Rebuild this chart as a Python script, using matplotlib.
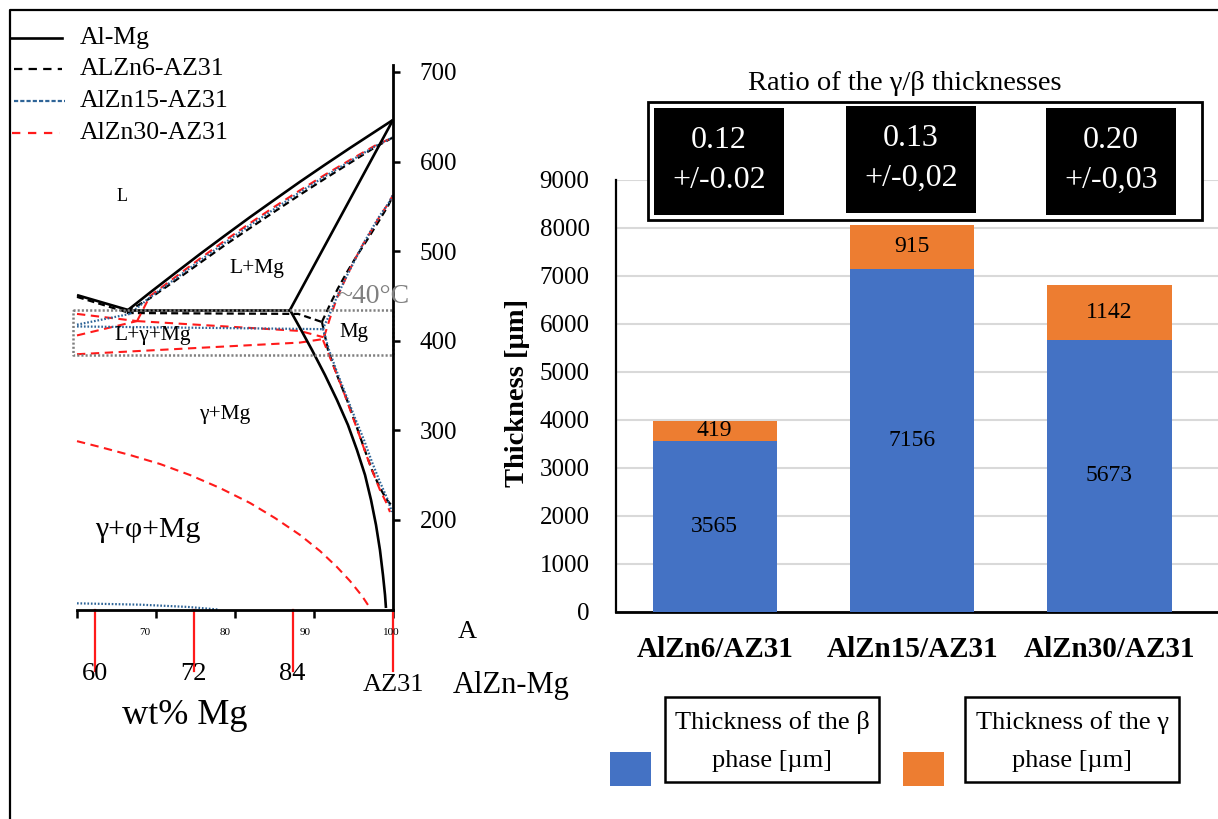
import matplotlib
matplotlib.use("Agg")
import matplotlib.pyplot as plt
from matplotlib.patches import Rectangle

plt.rcParams['font.family'] = ['Liberation Serif', 'DejaVu Serif']
plt.rcParams['lines.scale_dashes'] = False

W, H = 1218, 819

# ---------------- phase diagram data (wt% Mg, temperature degC) ----------------
almg_liq_left = [(60.0, 451), (66.46, 434.4)]
almg_liquidus = [(66.46, 434.4), (69.24, 453.8), (72.41, 475.4), (75.57, 496.8),
                 (78.73, 517.5), (81.90, 538.0), (85.06, 557.8), (88.23, 577.5),
                 (91.39, 596.5), (94.56, 615.2), (97.72, 633.4), (100.0, 646.5)]
almg_eutectic = [(66.46, 434.4), (86.96, 434.4)]
almg_solidus = [(86.96, 434.4), (100.0, 646.5)]
almg_solvus = [(86.96, 434.4), (88.23, 414.3), (89.75, 389.7), (91.39, 361.8),
               (92.91, 333.9), (94.30, 306.0), (95.44, 278.1), (96.46, 250.2),
               (97.22, 222.3), (97.85, 194.4), (98.35, 166.5), (98.73, 138.6),
               (98.99, 116.3), (99.11, 101.8)]

zn6_left = [(60.0, 449), (66.3, 432)]
zn6_liquidus = [(66.3, 432), (69.24, 447.5), (72.41, 467.0), (75.57, 487.0),
                (78.73, 506.8), (81.90, 525.8), (85.06, 544.5), (88.23, 563.0),
                (91.39, 581.0), (94.56, 598.5), (97.72, 616.0), (100.0, 627.0)]
zn6_eutectic = [(66.3, 431), (88.0, 430), (91.0, 421)]
zn6_solidus = [(91.0, 421), (92.0, 440), (93.0, 458), (94.2, 477), (95.5, 496),
               (96.9, 515), (98.3, 535), (99.4, 551), (100.0, 562)]
zn6_solvus = [(91.01, 420.9), (91.77, 389.7), (92.91, 361.8), (94.18, 333.9),
              (95.32, 306.0), (96.33, 280.4), (97.34, 255.8), (98.35, 235.7),
              (99.24, 222.3), (99.87, 215.6)]

zn15_left = [(60.0, 418), (66.7, 430)]
zn15_liquidus = [(66.7, 430), (69.24, 448.5), (72.41, 469.0), (75.57, 489.5),
                 (78.73, 509.5), (81.90, 529.0), (85.06, 547.5), (88.23, 566.0),
                 (91.39, 583.5), (94.56, 600.5), (97.72, 617.0), (100.0, 627.0)]
zn15_eutectic = [(60.0, 416), (91.1, 413)]
zn15_solidus = [(91.1, 413), (92.0, 430), (92.9, 449), (93.9, 468), (95.0, 487),
                (96.1, 506), (97.2, 523), (98.35, 540), (99.4, 553), (100.0, 563)]
zn15_solvus = [(91.14, 413.2), (91.90, 389.7), (92.91, 365.2), (94.05, 339.5),
               (95.19, 313.8), (96.33, 289.3), (97.34, 264.7), (98.35, 242.4),
               (99.24, 224.6), (99.87, 209.0)]
zn15_low = [(60.0, 107), (68, 105.5), (74, 103), (78, 100)]

zn30_left_a = [(60.0, 430), (67.6, 422)]
zn30_left_b = [(60.0, 406), (67.6, 422)]
zn30_liquidus = [(67.6, 422), (69.24, 449.9), (72.41, 470.9), (75.57, 491.8),
                 (78.73, 511.9), (81.90, 531.3), (85.06, 550.0), (88.23, 568.0),
                 (91.39, 585.3), (94.56, 601.8), (97.72, 617.8), (100.0, 627.0)]
zn30_upper = [(67.6, 422), (88.2, 411), (91.2, 404)]
zn30_lower = [(60.0, 385), (88.2, 398), (91.2, 402)]
zn30_solidus = [(91.27, 404.2), (92.03, 425.4), (92.91, 447.8), (93.92, 467.9),
                (94.94, 486.8), (96.08, 505.8), (97.22, 522.5), (98.35, 539.3),
                (99.37, 552.7), (100.0, 562.7)]
zn30_solvus = [(91.14, 400.8), (92.41, 373.0), (93.67, 345.1), (94.81, 317.2),
               (95.82, 292.6), (96.71, 270.3), (97.59, 250.2), (98.35, 233.5),
               (99.11, 220.1), (99.62, 208.9)]
zn30_phi = [(60.0, 288.0), (62.91, 281.5), (66.71, 272.5), (70.51, 262.5),
            (74.30, 250.2), (78.10, 235.7), (81.90, 219.0), (85.06, 202.2),
            (88.23, 183.3), (90.76, 165.4), (92.91, 147.5), (94.56, 131.9),
            (96.08, 115.2), (97.09, 101.8)]

window_T = (384, 434)
axis_ticks_T = [200, 300, 400, 500, 600, 700]
axis_ticks_wt = [60, 70, 80, 90, 100]
small_tick_labels = ['70', '80', '90', '100']
alzn_tick_pos = [62.3, 74.8, 87.3, 100.0]
alzn_tick_labels = ['60', '72', '84', 'AZ31']

# ---------------- bar chart data ----------------
joints = ['AlZn6/AZ31', 'AlZn15/AZ31', 'AlZn30/AZ31']
beta_um = [3565, 7156, 5673]
gamma_um = [419, 915, 1142]
ratio_val = ['0.12', '0.13', '0.20']
ratio_err = ['+/-0.02', '+/-0,02', '+/-0,03']

BLUE = '#4472C4'
ORANGE = '#ED7D31'
ZN15 = '#2E6497'
RED = '#FF1A1A'


def box(x0, y0, x1, y1):
    return [x0 / W, 1 - y1 / H, (x1 - x0) / W, (y1 - y0) / H]


fig = plt.figure(figsize=(W / 100, H / 100), dpi=100)

# ================= phase diagram =================
ax = fig.add_axes(box(77, 65, 393, 609.6))
ax.set_xlim(60, 100)
ax.set_ylim(100, 707.8)
for s in ['top', 'left']:
    ax.spines[s].set_visible(False)
for s in ['right', 'bottom']:
    ax.spines[s].set_linewidth(2.0)
ax.yaxis.tick_right()
ax.set_yticks(axis_ticks_T)
ax.tick_params(axis='y', direction='out', length=5, width=1.8, pad=14, labelsize=18)
ax.set_xticks(axis_ticks_wt)
ax.set_xticklabels([])
ax.tick_params(axis='x', direction='out', length=6, width=1.8)


def draw(pts, **kw):
    xs = [p[0] for p in pts]
    ys = [p[1] for p in pts]
    ax.plot(xs, ys, clip_on=False, **kw)


solid = dict(color='black', lw=1.9, solid_capstyle='butt', solid_joinstyle='round')
bdash = dict(color='black', lw=1.6, ls=(0, (5, 3)))
blue = dict(color=ZN15, lw=1.6, ls=(0, (1.2, 1.3)))
red = dict(color=RED, lw=1.5, ls=(0, (6, 4)))

for seg in [zn6_left, zn6_liquidus, zn6_eutectic, zn6_solidus, zn6_solvus]:
    draw(seg, **bdash)
for seg in [zn30_left_a, zn30_left_b, zn30_liquidus, zn30_upper, zn30_lower,
            zn30_solidus, zn30_solvus, zn30_phi]:
    draw(seg, **red)
for seg in [zn15_left, zn15_liquidus, zn15_eutectic, zn15_solidus, zn15_solvus, zn15_low]:
    draw(seg, **blue)
for seg in [almg_liq_left, almg_liquidus, almg_eutectic, almg_solidus, almg_solvus]:
    draw(seg, **solid)

# eutectic temperature window
wx = [59.5, 100, 100, 59.5, 59.5]
wy = [window_T[1], window_T[1], window_T[0], window_T[0], window_T[1]]
ax.plot(wx, wy, color='#7f7f7f', lw=1.8, ls=(0, (1.5, 1.5)), clip_on=False)

# phase field labels
ax.text(65.7, 561, 'L', fontsize=13, ha='center', va='center')
ax.text(82.8, 481, 'L+Mg', fontsize=15.5, ha='center', va='center')
ax.text(69.6, 406, 'L+γ+Mg', fontsize=15.5, ha='center', va='center')
ax.text(95.0, 409, 'Mg', fontsize=15, ha='center', va='center')
ax.text(78.7, 318, 'γ+Mg', fontsize=15.5, ha='center', va='center')
ax.text(69.0, 189, 'γ+φ+Mg', fontsize=21.5, ha='center', va='center')
ax.text(93.0, 449, '~40°C', fontsize=20, color='#808080', ha='left', va='center')

# small wt% Mg labels and the AlZn-Mg composition scale
xt = ax.get_xaxis_transform()
for pos, lab in zip([68.6, 78.8, 88.9, 99.8], small_tick_labels):
    ax.text(pos, -0.042, lab, transform=xt, fontsize=8, ha='center', va='center')
for pos, lab in zip(alzn_tick_pos, alzn_tick_labels):
    ax.plot([pos, pos], [0, -0.113], transform=xt, color=RED, lw=1.6, clip_on=False)
    yoff = -0.118 if lab != 'AZ31' else -0.138
    ax.text(pos, yoff, lab, transform=xt, fontsize=19, ha='center', va='center')

# ================= bar chart =================
bx = fig.add_axes(box(616, 180, 1218, 612))
x = list(range(len(joints)))
bx.bar(x, beta_um, width=0.63, color=BLUE, zorder=3)
bx.bar(x, gamma_um, width=0.63, bottom=beta_um, color=ORANGE, zorder=3)
bx.set_xlim(-0.5, 2.55)
bx.set_ylim(0, 9000)
bx.set_yticks(range(0, 9001, 1000))
bx.yaxis.grid(True, color='#d9d9d9', lw=1.5, zorder=0)
bx.set_axisbelow(True)
for s in ['top', 'right']:
    bx.spines[s].set_visible(False)
bx.spines['left'].set_linewidth(1.6)
bx.spines['bottom'].set_linewidth(2.0)
bx.tick_params(axis='y', length=0, pad=19, labelsize=18)
bx.tick_params(axis='x', length=0, pad=17)
bx.set_xticks(x)
bx.set_xticklabels(joints, fontsize=21, fontweight='bold')
for i in x:
    bx.text(i, beta_um[i] / 2, str(beta_um[i]), ha='center', va='center', fontsize=17, zorder=4)
    bx.text(i, beta_um[i] + gamma_um[i] / 2, str(gamma_um[i]), ha='center', va='center',
            fontsize=17, zorder=4)

# ================= overlay in pixel coordinates =================
ov = fig.add_axes([0, 0, 1, 1])
ov.set_xlim(0, W)
ov.set_ylim(H, 0)
ov.axis('off')

# outer frame
ov.plot([10, 10, W + 5], [H + 5, 10, 10], color='black', lw=1.6, clip_on=False)

# line-style legend
leg_items = [('Al-Mg', dict(color='black', lw=1.9), 10, 62, 38),
             ('ALZn6-AZ31', dict(color='black', lw=1.6, ls=(0, (6, 4.5))), 14, 62, 69),
             ('AlZn15-AZ31', dict(color=ZN15, lw=1.6, ls=(0, (3, 1.5))), 14, 65, 101),
             ('AlZn30-AZ31', dict(color=RED, lw=1.6, ls=(0, (6, 5.5))), 12, 60, 133)]
for lab, st, xa, xb, yy in leg_items:
    ov.plot([xa, xb], [yy, yy], **st)
    ov.text(80, yy, lab, fontsize=18.5, ha='left', va='center')

# axis captions
ov.text(185, 716, 'wt% Mg', fontsize=26, ha='center', va='center')
ov.text(467, 632, 'A', fontsize=19, ha='center', va='center')
ov.text(511, 685, 'AlZn-Mg', fontsize=22, ha='center', va='center')
ov.text(517, 393, 'Thickness [µm]', fontsize=20.5, fontweight='bold', rotation=90,
        ha='center', va='center')

# ratio boxes
ov.text(905, 84, 'Ratio of the γ/β thicknesses', fontsize=20.5, ha='center', va='center')
ov.add_patch(Rectangle((648, 102), 554, 118, facecolor='white', edgecolor='black', lw=2.0))
cells = [(654, 108), (846, 106), (1046, 108)]
for (cx, cy), v, e in zip(cells, ratio_val, ratio_err):
    ov.add_patch(Rectangle((cx, cy), 130, 107, facecolor='black', edgecolor='none'))
    ov.text(cx + 65, cy + 33, v, color='white', fontsize=23, ha='center', va='center')
    ov.text(cx + 65, cy + 72, e, color='white', fontsize=23, ha='center', va='center')

# series legend
for sx, col, bxl, txt in [(610, BLUE, 665, 'Thickness of the β'),
                          (903, ORANGE, 965, 'Thickness of the γ')]:
    ov.add_patch(Rectangle((sx, 752), 41, 34, facecolor=col, edgecolor='none'))
    ov.add_patch(Rectangle((bxl, 697), 214, 85, facecolor='white', edgecolor='black', lw=1.8))
    ov.text(bxl + 107, 723, txt, fontsize=19, ha='center', va='center')
    ov.text(bxl + 107, 761, 'phase [µm]', fontsize=19, ha='center', va='center')

fig.savefig('out.png', dpi=100)
